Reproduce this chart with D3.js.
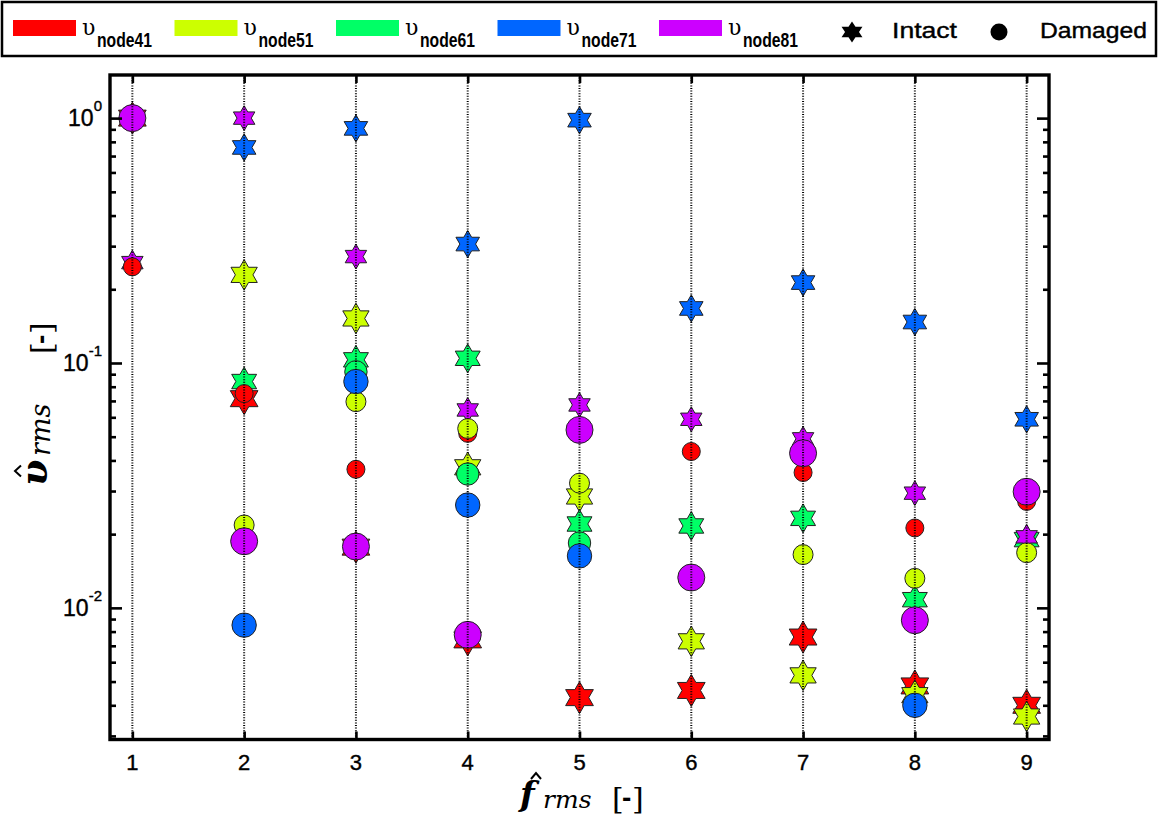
<!DOCTYPE html>
<html>
<head>
<meta charset="utf-8">
<script src="https://cdn.jsdelivr.net/npm/d3@7"></script>
<style>
  body { margin: 0; background: #fff; }
  svg { display: block; }
</style>
</head>
<body>
<svg id="chart" width="1161" height="818"></svg>
<script>
// ---- data -------------------------------------------------------------
const categories = [1, 2, 3, 4, 5, 6, 7, 8, 9];
const nodeNames = ["node41", "node51", "node61", "node71", "node81"];
const nodeColors = ["#ff0000", "#ccff00", "#00ff66", "#0066ff", "#cc00ff"];

// normalised rms response, intact structure (null = not shown)
const intact41 = [1.0, 0.0715, 0.0177, 0.0074, 0.0043, 0.0046, 0.0076, 0.0048, 0.0040];
const intact51 = [null, 0.229, 0.152, 0.0375, 0.0285, 0.0073, 0.0053, 0.0044, 0.0036];
const intact61 = [null, 0.084, 0.103, 0.1045, 0.022, 0.0216, 0.0232, 0.0108, 0.019];
const intact71 = [null, 0.759, 0.908, 0.306, 0.981, 0.167, 0.213, 0.147, 0.0589];
const intact81 = [0.257, 1.0, 0.272, 0.0643, 0.0674, 0.0589, 0.049, 0.0294, 0.0195];

// normalised rms response, damaged structure
const damaged41 = [0.247, 0.075, 0.0368, 0.0516, null, 0.0435, 0.0357, 0.0212, 0.0272];
const damaged51 = [null, 0.0218, 0.0695, 0.054, 0.0323, null, 0.0165, 0.0132, 0.0168];
const damaged61 = [null, null, 0.092, 0.0352, 0.0184, null, null, null, null];
const damaged71 = [null, 0.0085, 0.084, 0.0263, 0.0163, null, null, 0.0040, null];
const damaged81 = [1.0, 0.0187, 0.0178, 0.00776, 0.0533, 0.0133, 0.0428, 0.0089, 0.0298];

const intactSeries = [intact41, intact51, intact61, intact71, intact81];
const damagedSeries = [damaged41, damaged51, damaged61, damaged71, damaged81];

const yMajorTicks = [0.01, 0.1, 1];
const yMajorExponents = ["-2", "-1", "0"];
const yDomain = [0.0029, 1.5];
const xDomain = [0.8, 9.2];

// ---- layout ------------------------------------------------------------
const svg = d3.select("#chart");
const plot = { left: 110, right: 1049, top: 75, bottom: 739.5 };
const starR = [16, 15.2, 14.4, 13.6, 12.4];
const circleR = [9, 10, 11.2, 12.2, 13.5];

const x = d3.scaleLinear().domain(xDomain).range([plot.left, plot.right]);
const y = d3.scaleLog().domain(yDomain).range([plot.bottom, plot.top]);

const sansFont = "'Liberation Sans', Arial, Helvetica, sans-serif";
const serifFont = "'DejaVu Serif', 'Liberation Serif', serif";

// six-pointed star (hexagram), point up
function hexagram(R) {
  const r = R / Math.sqrt(3);
  const pts = [];
  for (let k = 0; k < 12; k++) {
    const a = -Math.PI / 2 + k * Math.PI / 6;
    const rad = k % 2 === 0 ? R : r;
    pts.push([rad * Math.cos(a), rad * Math.sin(a)]);
  }
  return "M" + pts.map(p => p[0].toFixed(2) + "," + p[1].toFixed(2)).join("L") + "Z";
}

// minor log ticks between the limits
const yMinorTicks = [];
for (let e = -3; e <= 0; e++) {
  for (let m = 2; m <= 9; m++) {
    const v = m * Math.pow(10, e);
    if (v >= yDomain[0] && v <= yDomain[1]) yMinorTicks.push(v);
  }
}

// ---- markers -------------------------------------------------------------
const markers = svg.append("g");
intactSeries.forEach((vals, i) => {
  markers.append("g").selectAll("path")
    .data(categories.map((c, j) => ({ c, v: vals[j] })).filter(d => d.v != null))
    .join("path")
    .attr("d", hexagram(starR[i]))
    .attr("transform", d => `translate(${x(d.c)},${y(d.v)})`)
    .attr("fill", nodeColors[i])
    .attr("stroke", "#222")
    .attr("stroke-width", 1);
});
damagedSeries.forEach((vals, i) => {
  markers.append("g").selectAll("circle")
    .data(categories.map((c, j) => ({ c, v: vals[j] })).filter(d => d.v != null))
    .join("circle")
    .attr("cx", d => x(d.c))
    .attr("cy", d => y(d.v))
    .attr("r", circleR[i])
    .attr("fill", nodeColors[i])
    .attr("stroke", "#222")
    .attr("stroke-width", 1);
});

// ---- dotted grid at each category (on top of markers) --------------------
svg.append("g").selectAll("line")
  .data(categories)
  .join("line")
  .attr("x1", d => x(d)).attr("x2", d => x(d))
  .attr("y1", plot.top).attr("y2", plot.bottom)
  .attr("stroke", "#000")
  .attr("stroke-width", 2)
  .attr("stroke-dasharray", "1,1.6");

// ---- axes ticks -----------------------------------------------------------
function tickAxis(axis, tx, ty) {
  const g = svg.append("g").attr("transform", `translate(${tx},${ty})`).call(axis);
  g.select(".domain").remove();
  g.selectAll("text").remove();
  g.selectAll("line").attr("stroke", "#000").attr("stroke-width", 2.6);
  return g;
}
tickAxis(d3.axisLeft(y).tickValues(yMajorTicks).tickSize(-12), plot.left, 0);
tickAxis(d3.axisLeft(y).tickValues(yMinorTicks).tickSize(-6), plot.left, 0);
tickAxis(d3.axisRight(y).tickValues(yMajorTicks).tickSize(-12), plot.right, 0);
tickAxis(d3.axisRight(y).tickValues(yMinorTicks).tickSize(-6), plot.right, 0);
tickAxis(d3.axisBottom(x).tickValues(categories).tickSize(-8), 0, plot.bottom);
tickAxis(d3.axisTop(x).tickValues(categories).tickSize(-8), 0, plot.top);

// frame
svg.append("rect")
  .attr("x", plot.left).attr("y", plot.top)
  .attr("width", plot.right - plot.left).attr("height", plot.bottom - plot.top)
  .attr("fill", "none").attr("stroke", "#000").attr("stroke-width", 3.4);

// y tick labels (10^n)
const yLab = svg.append("g").selectAll("text")
  .data(yMajorTicks)
  .join("text")
  .attr("x", plot.left - 8)
  .attr("y", d => y(d) + 8)
  .attr("text-anchor", "end")
  .attr("font-family", sansFont)
  .attr("font-size", 23)
  .attr("stroke", "#000").attr("stroke-width", 0.4);
yLab.append("tspan").text("10");
yLab.append("tspan").attr("dy", -15).attr("font-size", 15).text((d, i) => yMajorExponents[i]);

// x tick labels
svg.append("g").selectAll("text")
  .data(categories)
  .join("text")
  .attr("x", d => x(d))
  .attr("y", plot.bottom + 30)
  .attr("text-anchor", "middle")
  .attr("font-family", sansFont)
  .attr("font-size", 22)
  .attr("stroke", "#000").attr("stroke-width", 0.4)
  .text(d => d);

// ---- axis titles ----------------------------------------------------------
function bracketUnit(g, x0, yb) {
  g.append("text").attr("x", x0).attr("y", yb).attr("font-family", serifFont)
    .attr("font-size", 30).text("[");
  g.append("text").attr("x", x0 + 10).attr("y", yb - 2).attr("font-family", sansFont)
    .attr("font-size", 28).attr("font-weight", "bold").text("-");
  g.append("text").attr("x", x0 + 20).attr("y", yb).attr("font-family", serifFont)
    .attr("font-size", 30).text("]");
}
// circumflex accent drawn as a small chevron
function hat(g, cx, cy, w) {
  g.append("path")
    .attr("d", `M${cx - w / 2},${cy + 3}L${cx},${cy - 3}L${cx + w / 2},${cy + 3}`)
    .attr("fill", "none").attr("stroke", "#000").attr("stroke-width", 2)
    .attr("stroke-linejoin", "miter");
}

const xt = svg.append("g").attr("transform", "translate(520,806)");
xt.append("text").attr("font-family", serifFont).attr("font-size", 34)
  .attr("font-weight", "bold").attr("font-style", "italic").text("f");
hat(xt, 16, -30, 10);
xt.append("text").attr("x", 23).attr("y", 2).attr("font-family", serifFont)
  .attr("font-size", 25).attr("font-style", "italic").text("rms");
bracketUnit(xt, 92, 3);

const yt = svg.append("g").attr("transform", "translate(47,486) rotate(-90)");
yt.append("text").attr("font-family", serifFont).attr("font-size", 38)
  .attr("font-weight", "bold").attr("font-style", "italic").text("υ");
hat(yt, 15, -29, 11);
yt.append("text").attr("x", 30).attr("y", 3).attr("font-family", serifFont)
  .attr("font-size", 27).attr("font-style", "italic").text("rms");
bracketUnit(yt, 132, 5);

// ---- legend ---------------------------------------------------------------
const lg = svg.append("g");
lg.append("rect").attr("x", 2).attr("y", 2).attr("width", 1154).attr("height", 54)
  .attr("fill", "#fff").attr("stroke", "#000").attr("stroke-width", 2.5);

const entry = lg.selectAll("g.entry").data(nodeNames).join("g")
  .attr("class", "entry")
  .attr("transform", (d, i) => `translate(${13 + 161.5 * i},0)`);
entry.append("rect").attr("x", 0).attr("y", 20).attr("width", 63).attr("height", 16)
  .attr("fill", (d, i) => nodeColors[i]);
entry.append("text").attr("x", 69).attr("y", 35).attr("font-family", serifFont)
  .attr("font-size", 22).text("υ");
entry.append("text").attr("x", 84).attr("y", 47).attr("font-family", sansFont)
  .attr("font-size", 20).attr("font-weight", "bold")
  .attr("textLength", 55).attr("lengthAdjust", "spacingAndGlyphs")
  .text(d => d);

lg.append("path").attr("d", hexagram(10.5))
  .attr("transform", "translate(852,32) scale(1.15,1)").attr("fill", "#000");
lg.append("text").attr("x", 892).attr("y", 38).attr("font-family", sansFont)
  .attr("font-size", 22).attr("stroke", "#000").attr("stroke-width", 0.4)
  .attr("textLength", 65).attr("lengthAdjust", "spacingAndGlyphs")
  .text("Intact");
lg.append("circle").attr("cx", 999).attr("cy", 32).attr("r", 8.5).attr("fill", "#000");
lg.append("text").attr("x", 1040).attr("y", 38).attr("font-family", sansFont)
  .attr("font-size", 22).attr("stroke", "#000").attr("stroke-width", 0.4)
  .attr("textLength", 107).attr("lengthAdjust", "spacingAndGlyphs")
  .text("Damaged");
</script>
</body>
</html>
